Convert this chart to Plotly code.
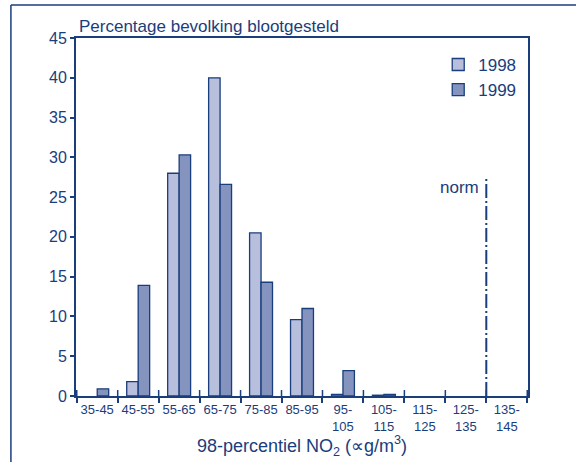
import plotly.graph_objects as go

# NO2 exposure classes (98-percentile, µg/m3)
categories = ["35-45", "45-55", "55-65", "65-75", "75-85", "85-95",
              "95-<br>105", "105-<br>115", "115-<br>125", "125-<br>135", "135-<br>145"]
pct_1998 = [0, 1.8, 28.0, 40.0, 20.5, 9.6, 0.2, 0.1, 0, 0, 0]
pct_1999 = [0.9, 13.9, 30.3, 26.6, 14.3, 11.0, 3.2, 0.2, 0, 0, 0]
norm_position = 9.5      # boundary between 125-135 and 135-145 (135 µg/m3)
norm_top = 27.4
y_ticks = list(range(0, 50, 5))

NAVY = "#1a3d7c"
FONT = "Liberation Sans, Arial, sans-serif"


def nonempty(values):
    # empty classes are left out, so no outline is drawn on the axis
    return [v if v > 0 else None for v in values]


fig = go.Figure()
fig.add_bar(x=categories, y=nonempty(pct_1998), name="1998",
            marker=dict(color="#b7bfdc", line=dict(color=NAVY, width=1.3)))
fig.add_bar(x=categories, y=nonempty(pct_1999), name="1999",
            marker=dict(color="#8593bf", line=dict(color=NAVY, width=1.3)))

# norm line
fig.add_shape(type="line", xref="x", yref="y", x0=norm_position, x1=norm_position,
              y0=0, y1=norm_top, line=dict(color=NAVY, width=2, dash="14px,3px,2px,3px"))
fig.add_annotation(xref="x", yref="y", x=norm_position, y=norm_top, text="norm",
                   showarrow=False, xanchor="right", yanchor="top", xshift=-5, yshift=2,
                   font=dict(family=FONT, size=17, color=NAVY))

# inner part of the crossing boundary ticks on the x axis
for i in range(len(categories) + 1):
    fig.add_shape(type="line", xref="x", yref="y", x0=i - 0.5, x1=i - 0.5,
                  y0=0, y1=0.75, line=dict(color=NAVY, width=1.5))

# outer frame (left and top)
fig.add_shape(type="line", xref="paper", yref="paper", x0=-0.144, x1=-0.144,
              y0=-0.2, y1=1.092, line=dict(color=NAVY, width=1.5))
fig.add_shape(type="line", xref="paper", yref="paper", x0=-0.144, x1=1.2,
              y0=1.092, y1=1.092, line=dict(color=NAVY, width=1.5))

fig.add_annotation(xref="paper", yref="paper", x=0.003, y=1.0, text="Percentage bevolking blootgesteld",
                   showarrow=False, xanchor="left", yanchor="bottom", yshift=0,
                   font=dict(family=FONT, size=17, color=NAVY))

fig.update_layout(
    width=576, height=462,
    margin=dict(l=76, r=48, t=38, b=66),
    paper_bgcolor="white", plot_bgcolor="white",
    barmode="group", bargap=0.44, bargroupgap=0,
    font=dict(family=FONT, color=NAVY),
    showlegend=True,
    legend=dict(x=0.985, y=0.975, xanchor="right", yanchor="top",
                font=dict(family=FONT, size=17, color=NAVY),
                bgcolor="rgba(0,0,0,0)", tracegroupgap=0, itemwidth=30),
    xaxis=dict(type="category", tickson="boundaries", ticks="outside", ticklen=5,
               tickwidth=1.5, tickcolor=NAVY, showline=True, linecolor=NAVY,
               linewidth=2, mirror=True, showgrid=False, automargin=False,
               tickfont=dict(family=FONT, size=13, color=NAVY), tickangle=0,
               title=dict(text="98-percentiel NO<sub>2</sub> (∝g/m<sup>3</sup>)",
                          font=dict(family=FONT, size=18, color=NAVY), standoff=2)),
    yaxis=dict(range=[0, 45], tickvals=y_ticks, ticks="outside", ticklen=4,
               tickwidth=1.5, tickcolor=NAVY, showline=True, linecolor=NAVY,
               linewidth=2, mirror=True, showgrid=False, zeroline=False, automargin=False,
               tickfont=dict(family=FONT, size=16, color=NAVY)),
)

fig.write_html("out.html")
